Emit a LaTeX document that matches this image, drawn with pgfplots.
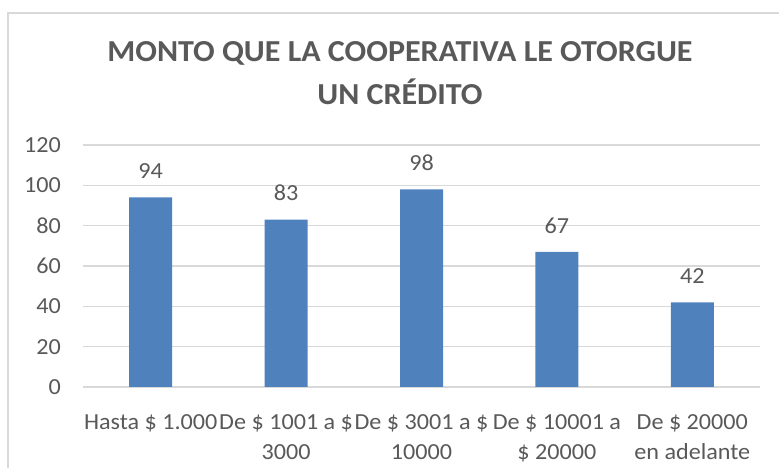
\documentclass[border=0pt]{standalone}
\usepackage{fontspec}
\setmainfont{Carlito}[FakeStretch=1.05]
\usepackage{pgfplots}
\pgfplotsset{compat=1.18}
\definecolor{barblue}{HTML}{4F81BD}
\definecolor{txt}{HTML}{595959}
\definecolor{gridc}{HTML}{D9D9D9}
\begin{document}
\begin{tikzpicture}[x=1pt,y=1pt]
\useasboundingbox (0,0) rectangle (779,468);
\draw[gridc, line width=1.5pt] (8,-20) rectangle (800,455);
\node[align=center, text=txt, font=\fontsize{30.5}{43}\selectfont\bfseries] at (400,394.5) {MONTO QUE LA COOPERATIVA LE OTORGUE\\UN CRÉDITO};
\begin{axis}[
  at={(83pt,81pt)}, anchor=south west,
  scale only axis, width=677pt, height=242pt,
  ymin=0, ymax=120, xmin=-0.5, xmax=4.5,
  ytick={0,20,...,120}, xtick={0,1,2,3,4},
  xticklabels={Hasta \$ 1.000, {De \$ 1001 a \$\\3000}, {De \$ 3001 a \$\\10000}, {De \$ 10001 a\\\$ 20000}, {De \$ 20000\\en adelante}},
  ymajorgrids, grid style={gridc, line width=1.2pt},
  axis line style={draw=none}, major tick length=0pt,
  /pgf/number format/assume math mode=true,
  yticklabel style={font=\fontsize{23}{27}\selectfont, text=txt, inner sep=0pt, anchor=east, xshift=-22pt},
  xticklabel style={font=\fontsize{23}{30}\selectfont, text=txt, inner sep=0pt, anchor=north, align=center, yshift=-27pt},
  ybar, bar width=43pt,
  nodes near coords,
  every node near coord/.append style={font=\fontsize{23}{27}\selectfont, text=txt, anchor=south, inner sep=0pt, yshift=18.5pt},
]
\addplot[fill=barblue, draw=none] coordinates {(0,94) (1,83) (2,98) (3,67) (4,42)};
\end{axis}
\end{tikzpicture}
\end{document}
